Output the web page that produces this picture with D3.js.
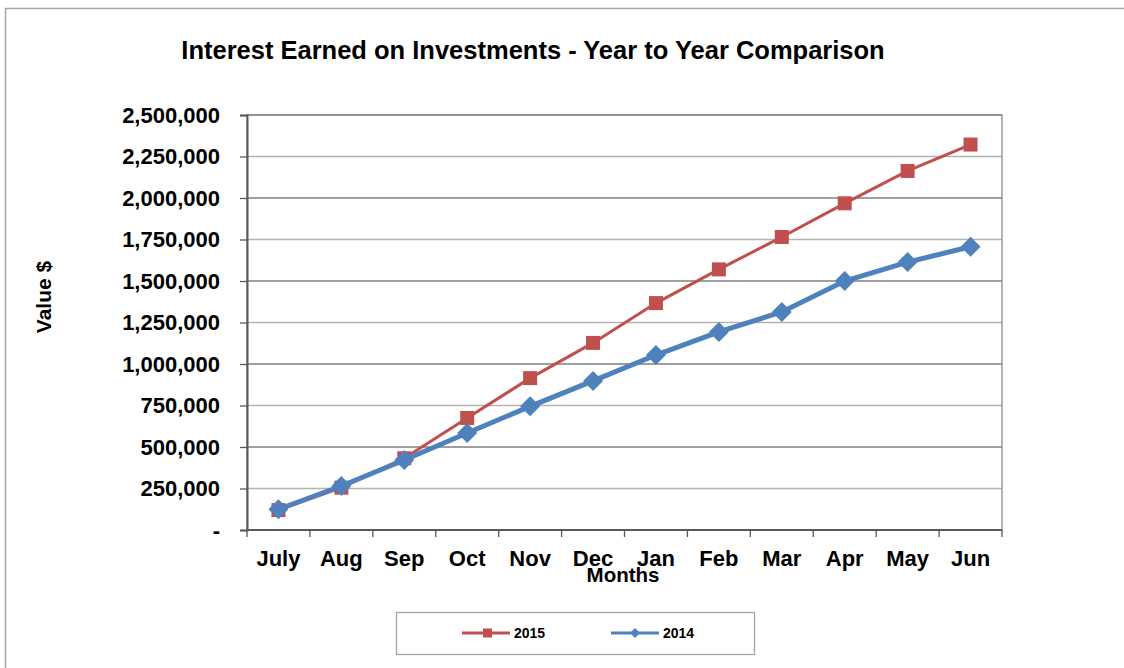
<!DOCTYPE html>
<html>
<head>
<meta charset="utf-8">
<script src="https://cdn.jsdelivr.net/npm/d3@7"></script>
<style>
  body { margin: 0; background: #fff; }
  text { font-family: "Liberation Sans", Arial, sans-serif; font-weight: bold; fill: #000; }
</style>
</head>
<body>
<svg width="1124" height="668"></svg>
<script>
var months = ["July", "Aug", "Sep", "Oct", "Nov", "Dec", "Jan", "Feb", "Mar", "Apr", "May", "Jun"];
var values2015 = [120000, 255000, 432000, 675000, 915000, 1127000, 1367000, 1570000, 1765000, 1968000, 2163000, 2322000];
var values2014 = [125000, 265000, 422000, 584000, 745000, 898000, 1054000, 1193000, 1314000, 1500000, 1614000, 1706000];
var yTicks = [0, 250000, 500000, 750000, 1000000, 1250000, 1500000, 1750000, 2000000, 2250000, 2500000];

var svg = d3.select("svg"),
    plotL = 247, plotR = 1002, plotT = 115, plotB = 530;

// outer chart border
svg.append("rect")
    .attr("x", 5.5).attr("y", 8.5)
    .attr("width", 1130).attr("height", 680)
    .attr("fill", "none").attr("stroke", "#a6a6a6").attr("stroke-width", 1.5);

svg.append("text")
    .attr("x", 533).attr("y", 59)
    .attr("text-anchor", "middle")
    .style("font-size", "25.5px")
    .text("Interest Earned on Investments - Year to Year Comparison");

var x = d3.scaleBand().domain(months).range([plotL, plotR]);
var y = d3.scaleLinear().domain([0, 2500000]).range([plotB, plotT]);

// gridlines
svg.append("g")
  .selectAll("line")
  .data(yTicks.slice(1))
  .enter().append("line")
    .attr("x1", plotL).attr("x2", plotR)
    .attr("y1", function(d) { return y(d); })
    .attr("y2", function(d) { return y(d); })
    .attr("stroke", function(d, i) { return i % 2 ? "#7f7f7f" : "#b3b3b3"; })
    .attr("stroke-width", 1.3);

// plot frame
svg.append("rect")
    .attr("x", plotL).attr("y", plotT)
    .attr("width", plotR - plotL).attr("height", plotB - plotT)
    .attr("fill", "none").attr("stroke", "#8c8c8c").attr("stroke-width", 1.3);

var yAxis = svg.append("g")
    .attr("transform", "translate(" + plotL + ",0)")
    .call(d3.axisLeft(y).tickValues(yTicks).tickSize(7).tickPadding(20)
      .tickFormat(function(d) { return d === 0 ? "-" : d3.format(",")(d); }));
yAxis.select(".domain").attr("stroke", "#595959").attr("stroke-width", 2);
yAxis.selectAll(".tick line").attr("stroke", "#595959").attr("stroke-width", 1.3);
yAxis.selectAll("text").style("font-size", "22px").attr("fill", "#000");

// x axis with ticks at category boundaries
var xAxis = svg.append("g").attr("transform", "translate(0," + plotB + ")");
xAxis.append("line")
    .attr("x1", plotL).attr("x2", plotR)
    .attr("stroke", "#595959").attr("stroke-width", 2);
xAxis.selectAll(".bt")
  .data(months.concat([null]))
  .enter().append("line")
    .attr("x1", function(d, i) { return plotL + i * x.bandwidth(); })
    .attr("x2", function(d, i) { return plotL + i * x.bandwidth(); })
    .attr("y1", 0).attr("y2", 7)
    .attr("stroke", "#595959").attr("stroke-width", 1.3);
xAxis.selectAll("text")
  .data(months)
  .enter().append("text")
    .attr("x", function(d) { return x(d) + x.bandwidth() / 2; })
    .attr("y", 36)
    .attr("text-anchor", "middle")
    .style("font-size", "22px")
    .text(function(d) { return d; });

svg.append("text")
    .attr("x", 623).attr("y", 582)
    .attr("text-anchor", "middle")
    .style("font-size", "20.5px")
    .text("Months");

svg.append("text")
    .attr("transform", "translate(51,297) rotate(-90)")
    .attr("text-anchor", "middle")
    .style("font-size", "21px")
    .text("Value $");

var line = function(vals) {
  return d3.line()
    .x(function(d, i) { return x(months[i]) + x.bandwidth() / 2; })
    .y(function(d) { return y(d); })(vals);
};

var red = "#c0504d", blue = "#4f81bd";

// 2015 series
svg.append("path")
    .attr("d", line(values2015))
    .attr("fill", "none").attr("stroke", red).attr("stroke-width", 3);
svg.append("g").selectAll("rect")
  .data(values2015)
  .enter().append("rect")
    .attr("x", function(d, i) { return x(months[i]) + x.bandwidth() / 2 - 7; })
    .attr("y", function(d) { return y(d) - 7; })
    .attr("width", 14).attr("height", 14)
    .attr("fill", red);

// 2014 series
svg.append("path")
    .attr("d", line(values2014))
    .attr("fill", "none").attr("stroke", blue).attr("stroke-width", 5);
svg.append("g").selectAll("path")
  .data(values2014)
  .enter().append("path")
    .attr("d", "M0,-10L10,0L0,10L-10,0Z")
    .attr("transform", function(d, i) {
      return "translate(" + (x(months[i]) + x.bandwidth() / 2) + "," + y(d) + ")";
    })
    .attr("fill", blue);

// legend
var legend = svg.append("g");
legend.append("rect")
    .attr("x", 396.5).attr("y", 612.5)
    .attr("width", 358).attr("height", 42)
    .attr("fill", "#fff").attr("stroke", "#a6a6a6").attr("stroke-width", 1.3);

var items = [["2015", red, "sq"], ["2014", blue, "dia"]];
items.forEach(function(it, i) {
  var lx = 462 + i * 149, ly = 633;
  legend.append("line")
      .attr("x1", lx).attr("x2", lx + 48)
      .attr("y1", ly).attr("y2", ly)
      .attr("stroke", it[1]).attr("stroke-width", 3);
  if (it[2] === "sq") {
    legend.append("rect")
        .attr("x", lx + 21).attr("y", ly - 4.5)
        .attr("width", 9).attr("height", 9).attr("fill", it[1]);
  } else {
    legend.append("path")
        .attr("d", "M0,-5L5,0L0,5L-5,0Z")
        .attr("transform", "translate(" + (lx + 24) + "," + ly + ")")
        .attr("fill", it[1]);
  }
  legend.append("text")
      .attr("x", lx + 52).attr("y", ly + 5)
      .style("font-size", "14px")
      .text(it[0]);
});
</script>
</body>
</html>
